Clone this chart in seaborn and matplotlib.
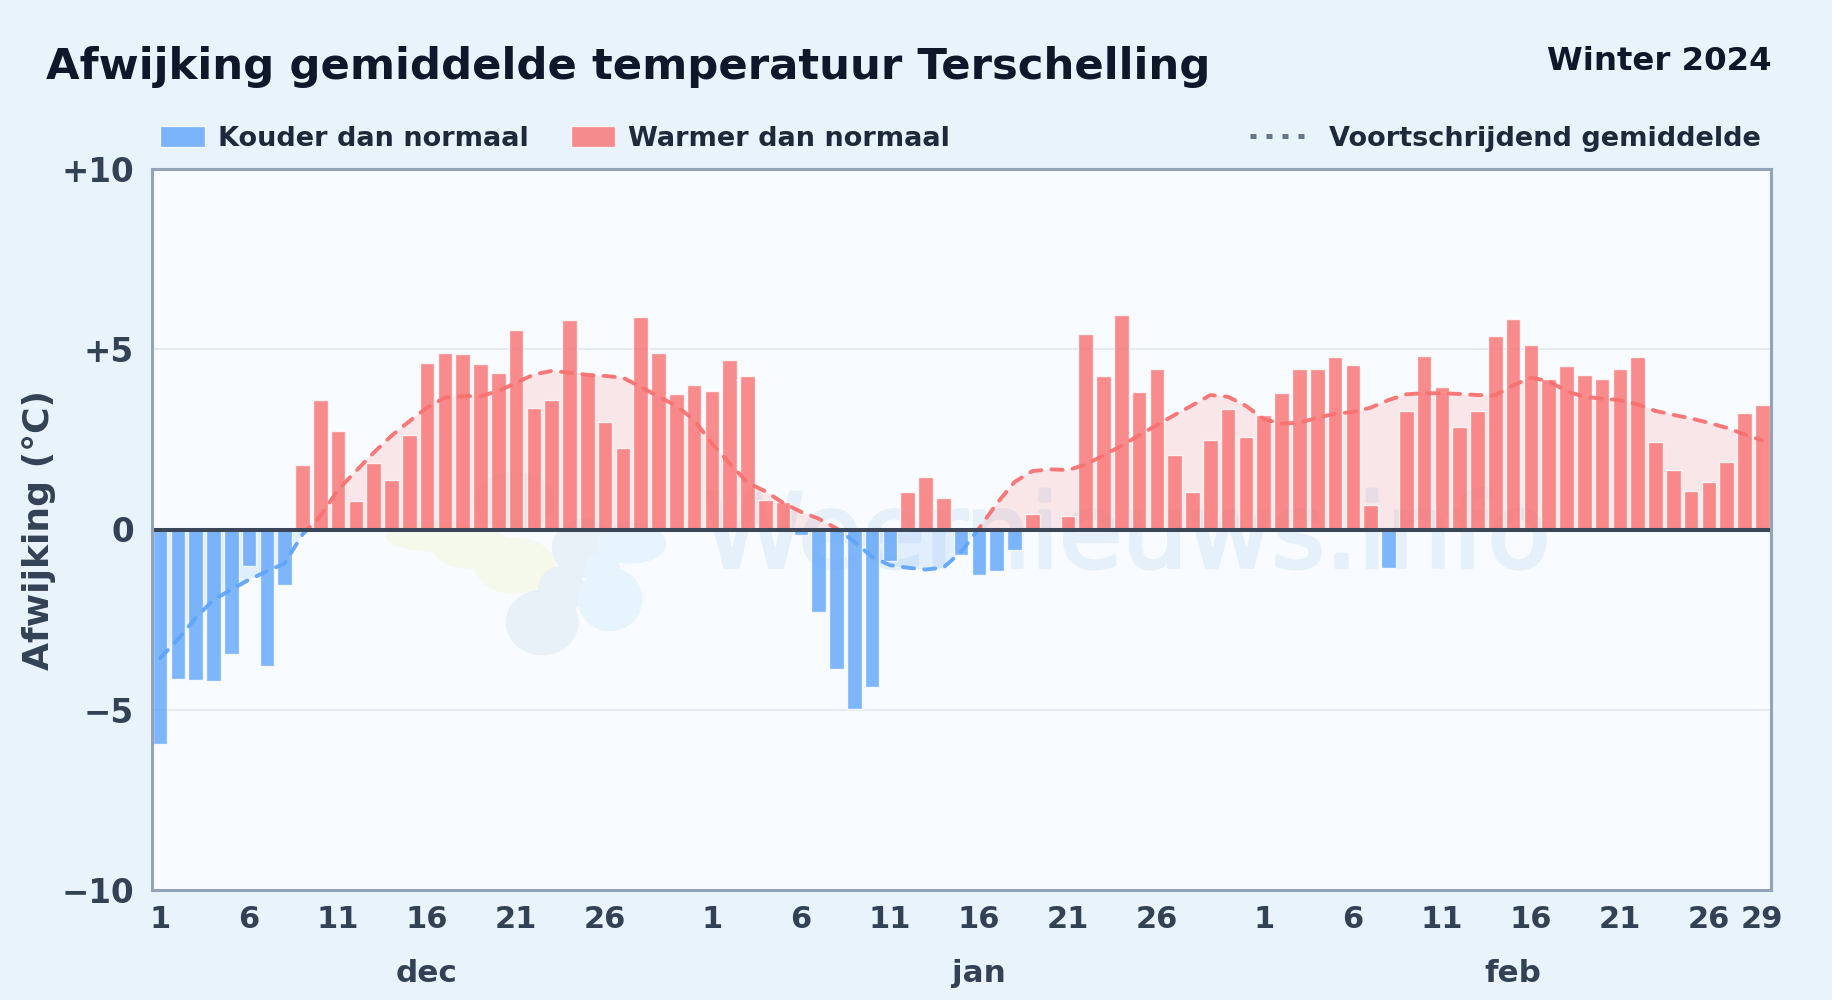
# Afwijking gemiddelde temperatuur Terschelling, winter 2024
import numpy as np
import pandas as pd
import matplotlib
matplotlib.use('Agg')
import matplotlib.pyplot as plt
import matplotlib.patheffects as pe
from matplotlib.patches import Ellipse, Patch
from matplotlib.lines import Line2D
import seaborn as sns

# daily deviation per month
dec_values = [-5.95, -4.15, -4.17, -4.2, -3.45, -1.0, -3.78, -1.55, 1.78, 3.6, 2.72, 0.8, 1.85, 1.36, 2.62, 4.63,
              4.89, 4.86, 4.6, 4.34, 5.54, 3.37, 3.58, 5.8, 4.3, 2.97, 2.27, 5.9, 4.89, 3.75, 4.02]
jan_values = [3.85, 4.69, 4.27, 0.83, 0.77, -0.15, -2.3, -3.86, -4.97, -4.37, -0.88, 1.03, 1.45, 0.87, -0.72, -1.25,
              -1.15, -0.57, 0.42, 0.0, 0.37, 5.41, 4.27, 5.96, 3.82, 4.44, 2.08, 1.04, 2.47, 3.33, 2.56]
feb_values = [3.17, 3.78, 4.44, 4.44, 4.78, 4.56, 0.67, -1.08, 3.28, 4.8, 3.94, 2.83, 3.28, 5.36, 5.83, 5.11,
              4.17, 4.53, 4.28, 4.17, 4.44, 4.78, 2.42, 1.64, 1.08, 1.33, 1.86, 3.22, 3.44]

# moving average per month
dec_rolling = [-3.57, -3.05, -2.46, -1.95, -1.67, -1.39, -1.16, -0.94, -0.14, 0.37, 1.1, 1.62, 2.13, 2.6, 3.0, 3.38,
               3.66, 3.7, 3.7, 3.84, 4.07, 4.3, 4.4, 4.35, 4.29, 4.26, 4.21, 3.96, 3.69, 3.43, 3.04]
jan_rolling = [2.39, 1.83, 1.3, 1.06, 0.74, 0.49, 0.3, 0.03, -0.34, -0.76, -0.99, -1.06, -1.11, -1.06, -0.62, 0.03,
               0.72, 1.32, 1.62, 1.67, 1.65, 1.8, 2.06, 2.32, 2.62, 2.9, 3.18, 3.45, 3.73, 3.68, 3.43]
feb_rolling = [3.06, 2.94, 2.96, 3.1, 3.21, 3.26, 3.38, 3.59, 3.75, 3.78, 3.78, 3.76, 3.73, 3.72, 4.0, 4.21,
               4.12, 3.84, 3.68, 3.63, 3.59, 3.47, 3.29, 3.18, 3.08, 2.96, 2.82, 2.64, 2.47]

day_ticks = [1, 6, 11, 16, 21, 26]
feb_extra_tick = [29]
month_names = ['dec', 'jan', 'feb']
month_label_days = [16, 16, 15]
y_ticks = [-10, -5, 0, 5, 10]
y_labels = ['\u221210', '\u22125', '0', '+5', '+10']

COLD = '#60a5fa'
WARM = '#f87171'
BG = '#e8f3fc'
PLOT_BG = '#f8fbff'
LABEL = '#334155'
DARK = '#1e293b'

months = [dec_values, jan_values, feb_values]
values = np.array(dec_values + jan_values + feb_values)
rolling = np.array(dec_rolling + jan_rolling + feb_rolling)
days = np.arange(len(values))
df = pd.DataFrame({'day': days, 'value': values,
                   'kind': np.where(values < 0, 'cold', 'warm'), 'rolling': rolling})

sns.set_theme(style='white')
plt.rcParams['font.family'] = ['DejaVu Sans']
plt.rcParams['font.weight'] = 'bold'

W, H = 1832, 1000
fig = plt.figure(figsize=(W / 100, H / 100), dpi=100, facecolor=BG)
ax = fig.add_axes([152 / W, 1 - 890 / H, (1771 - 152) / W, (890 - 169) / H], facecolor=PLOT_BG)

# watermark behind everything, logo blobs in axes fractions
logo = [(0.177, 0.49, 0.065, 0.042, '#f5f9ec'), (0.198, 0.474, 0.05, 0.057, '#f5f9ec'),
        (0.224, 0.45, 0.05, 0.078, '#f5f9ec'),
        (0.241, 0.371, 0.045, 0.091, '#e8f0f8'), (0.253, 0.417, 0.029, 0.065, '#e8f0f8'),
        (0.267, 0.474, 0.04, 0.081, '#e8f0f8'), (0.224, 0.539, 0.05, 0.081, '#eef3f8'),
        (0.283, 0.403, 0.04, 0.088, '#e8f4fd'), (0.278, 0.444, 0.022, 0.049, '#e8f4fd'),
        (0.296, 0.481, 0.043, 0.057, '#e8f4fd')]
for x0, y0, w0, h0, c0 in logo:
    ax.add_patch(Ellipse((x0, y0), w0, h0, transform=ax.transAxes, color=c0, lw=0, zorder=0.5))
ax.text(0.602, 0.487, 'Weernieuws.info', transform=ax.transAxes, ha='center', va='center',
        fontsize=74, fontweight='normal', color='#e6f0fa', zorder=0.6,
        path_effects=[pe.withStroke(linewidth=2.5, foreground='#e6f0fa')])

# pale area between moving average and zero
ax.fill_between(days, 0, rolling, where=rolling >= 0, interpolate=True, color=WARM, alpha=0.15, lw=0, zorder=1)
ax.fill_between(days, 0, rolling, where=rolling <= 0, interpolate=True, color=COLD, alpha=0.15, lw=0, zorder=1)

sns.barplot(data=df, x='day', y='value', hue='kind', palette={'cold': COLD, 'warm': WARM},
            dodge=False, width=0.82, saturation=1, alpha=0.8, legend=False, ax=ax, zorder=2)

# same line twice, clipped on the zero line for the two colours
above = sns.lineplot(data=df, x='day', y='rolling', color=WARM, ax=ax, zorder=3, lw=2.8,
                     linestyle=(0, (2.9, 2.6)), dash_capstyle='round', alpha=0.95).lines[-1]
above.set_clip_path(plt.Rectangle((-0.5, 0), len(values), 10, transform=ax.transData))
below = sns.lineplot(data=df, x='day', y='rolling', color=COLD, ax=ax, zorder=3, lw=2.8,
                     linestyle=(0, (2.9, 2.6)), dash_capstyle='round', alpha=0.95).lines[-1]
below.set_clip_path(plt.Rectangle((-0.5, -10), len(values), 10, transform=ax.transData))

ax.axhline(0, color='#3b4658', lw=2.9, zorder=4)
ax.set_xlim(-0.45, len(values) - 0.51)
ax.set_ylim(-10, 10)

# ticks per month
tick_pos = []
tick_txt = []
offset = 0
for month, month_vals in enumerate(months):
    month_days = day_ticks + feb_extra_tick if month == 2 else day_ticks
    for d in month_days:
        tick_pos.append(offset + d - 1)
        tick_txt.append(str(d))
    ax.annotate(month_names[month], xy=(offset + month_label_days[month] - 1, 0), xycoords=('data', 'axes fraction'),
                xytext=(0, -84), textcoords='offset pixels', ha='center', va='center', fontsize=22.3, color=LABEL)
    offset += len(month_vals)
ax.set_xticks(tick_pos, tick_txt)
ax.set_yticks(y_ticks, y_labels)
ax.tick_params(axis='x', length=0, pad=11, labelsize=22, labelcolor=LABEL)
ax.tick_params(axis='y', length=0, pad=13, labelsize=23.5, labelcolor=LABEL)
ax.set_xlabel('')
ax.set_ylabel('Afwijking (\u00b0C)', fontsize=26, color=LABEL, fontweight='bold')
ax.yaxis.set_label_coords(-0.059, 0.5)

ax.grid(False)
for y in (-5, 5):
    ax.axhline(y, color='#e2e8f0', lw=1.2, zorder=1.5)
for spine in ax.spines.values():
    spine.set_color('#94a3b8')
    spine.set_linewidth(2.2)
    spine.set_zorder(5)

fig.text(46 / W, 1 - 67 / H, 'Afwijking gemiddelde temperatuur Terschelling', fontsize=31.2, color='#0f172a',
         ha='left', va='center')
fig.text(1772 / W, 1 - 62 / H, 'Winter 2024', fontsize=23.3, color='#0f172a', ha='right', va='center')

left_legend = ax.legend(handles=[Patch(facecolor=COLD, alpha=0.8, label='Kouder dan normaal'),
                                 Patch(facecolor=WARM, alpha=0.8, label='Warmer dan normaal')],
                        loc='lower left', bbox_to_anchor=(-0.0065, 0.9975), ncol=2, frameon=False, fontsize=19.5,
                        labelcolor=DARK, handlelength=1.64, handleheight=0.78, handletextpad=0.48,
                        columnspacing=1.55, borderaxespad=0.4, borderpad=0.3)
ax.add_artist(left_legend)
ax.legend(handles=[Line2D([], [], color='#64748b', lw=3.6, linestyle=(0, (1.2, 2)),
                          label='Voortschrijdend gemiddelde')],
          loc='lower right', bbox_to_anchor=(1.0057, 0.9975), frameon=False, fontsize=19.5, labelcolor=DARK,
          handlelength=2.16, handletextpad=0.78, borderaxespad=0.4, borderpad=0.3)

fig.savefig('out.png', dpi=100, facecolor=BG)
